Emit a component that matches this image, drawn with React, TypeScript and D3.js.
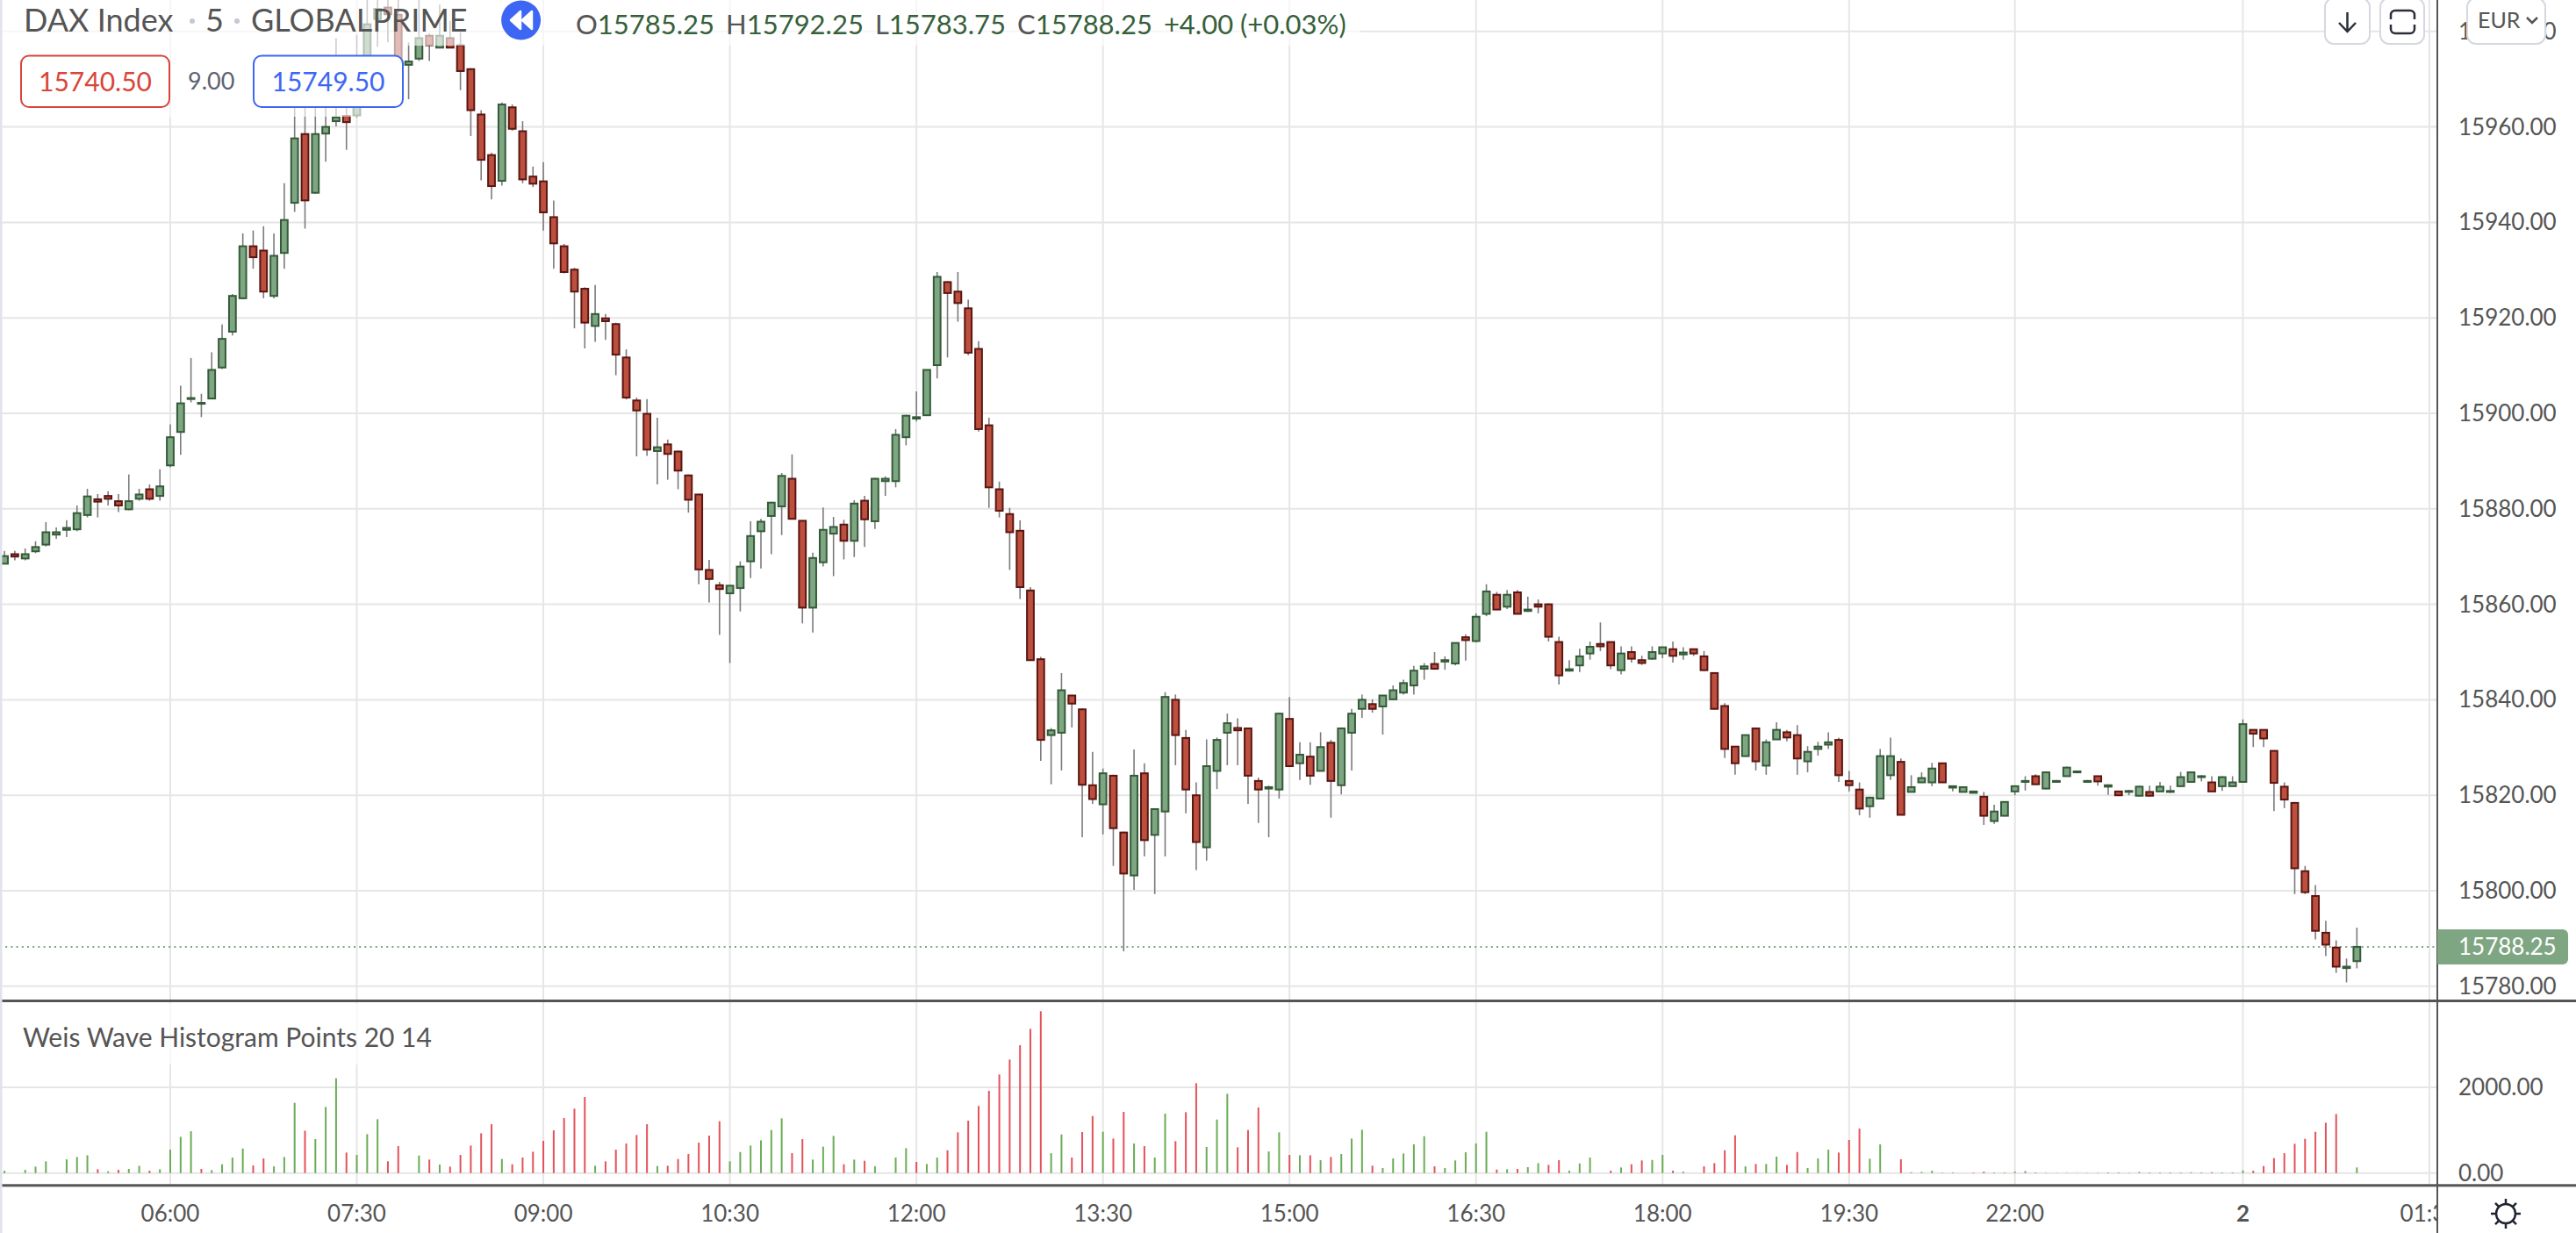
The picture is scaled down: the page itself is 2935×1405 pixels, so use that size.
import * as d3 from 'd3';
import { useEffect, useRef } from 'react';

const WIDTH = 2935;
const HEIGHT = 1405;

const opens = [
  15868.5,15870.5,15869.6,15871.1,15872.5,15874.6,15875.6,15875.7,15878.7,15882,
  15882.7,15881.6,15879.9,15882.1,15884.1,15882.7,15889.1,15896.1,15903,15902,
  15903.1,15909.6,15917.1,15924.1,15935,15934.1,15924.6,15933.6,15944.1,15958.5,
  15946.2,15958.6,15961.2,15962.3,15962.4,15970,15982.6,15985,15983.5,15973,
  15974.3,15979.1,15976.6,15978.6,15977.1,15972.1,15962.6,15954.1,15948.7,15964.1,
  15959.1,15949.6,15948.6,15941.1,15935,15930.1,15926.1,15918.3,15919.9,15918.7,
  15911.7,15902.7,15899.9,15892.1,15893.5,15892,15887,15883,15867.2,15864,
  15862.3,15863.4,15869,15875.3,15878.5,15880.5,15886.3,15877.5,15859.3,15868.8,
  15874.8,15876.7,15873.3,15881.7,15877.4,15885.8,15885.8,15895,15898.9,15899.6,
  15910.1,15927.5,15925.5,15922,15913.5,15897.5,15884.1,15878.9,15875.4,15862.9,
  15848.5,15832.6,15833.1,15840.9,15838,15822.1,15818.1,15824.1,15812.2,15803.2,
  15824.6,15811.7,15816.6,15840,15832,15820,15809.1,15825.1,15833.1,15834.1,
  15834,15823,15821.4,15821.2,15836,15826.7,15828.1,15825.1,15831,15822.1,
  15833.1,15838.1,15839.1,15838.6,15840.1,15841.5,15843,15846.5,15847.5,15848,
  15847.6,15853.1,15852.3,15858,15862,15859.5,15862.5,15858.6,15860,15860,
  15852.1,15846.1,15847.2,15849.7,15851.7,15852.1,15846.2,15850,15848.3,15848.6,
  15849.7,15850.6,15849.5,15850.6,15849.1,15845.6,15838.7,15830.2,15828.2,15834,
  15826.2,15831.7,15833.2,15832.6,15827.1,15829.7,15830.6,15831.6,15823,15821.2,
  15817.7,15819.3,15824.2,15827,15820.7,15822.7,15822.7,15826.7,15821.6,15820.7,
  15820.5,15819.7,15814.6,15815.7,15820.8,15822.8,15824,15821.4,15822.8,15824,
  15824.8,15822.8,15824,15821.8,15820.8,15820.7,15819.9,15820.7,15820.8,15820.7,
  15821.9,15822.8,15823.8,15822.7,15821.9,15821.9,15822.8,15833.7,15833.7,15829.3,
  15821.8,15818.4,15804.1,15798.9,15791.2,15788.1,15783.8,15785.25,
];

const closes = [
  15870.1,15870,15870.5,15872,15875.1,15875.1,15876,15879.1,15882.6,15881.5,
  15882.1,15880.7,15881.6,15883,15882.1,15884.7,15895,15902.1,15903.2,15902.2,
  15909.1,15915.6,15924.6,15935,15932.7,15925.5,15933,15940.5,15957.6,15944.6,
  15958.5,15960,15962,15961,15969.4,15981.5,15984.7,15983.6,15974.3,15973.7,
  15978.6,15977.1,15979.1,15976.6,15971.7,15963.5,15953.1,15947.6,15964.7,15959.6,
  15949,15948.1,15942.1,15935.6,15929.6,15925.5,15919,15920.8,15919.3,15912.3,
  15903.3,15900.6,15892.4,15892.9,15891.5,15888,15881.9,15867.3,15865.3,15863.2,
  15863.9,15867.9,15874.3,15877.3,15881.3,15886.9,15877.9,15859.3,15869.7,15875.6,
  15876.2,15873.3,15881.1,15877.8,15886.3,15886.3,15895.5,15899.5,15899.2,15909.1,
  15928.6,15925.2,15923.1,15912.7,15896.7,15884.5,15879.6,15875.1,15863.6,15848.3,
  15831.6,15833.6,15842,15839.2,15822.2,15819.2,15824.6,15813.1,15803.6,15824.1,
  15810.6,15817.1,15840.6,15832.6,15821.2,15810.2,15826.1,15831.6,15835.1,15833.6,
  15824.1,15821.2,15821.7,15837.1,15826.1,15828.5,15824.1,15830.1,15823,15834,
  15837.1,15840,15838.1,15840.9,15842,15843.5,15846.1,15847,15846.5,15848.3,
  15851.9,15852.5,15857.4,15862.7,15858.9,15862,15858,15858.9,15859.5,15853.2,
  15845.1,15846.4,15849.1,15851.1,15851.2,15847.2,15849.7,15848.6,15847.7,15850,
  15851,15849.2,15849.9,15849.7,15846.2,15838.1,15829.7,15826.7,15832.6,15827.1,
  15831.1,15833.7,15832.1,15827.7,15829.1,15830.2,15831.1,15824.2,15822.1,15817.2,
  15819.5,15828.2,15828.2,15815.9,15821.7,15823.6,15825.6,15822.7,15821.9,15821.7,
  15820.8,15815.7,15816.6,15818.6,15821.9,15823,15822.3,15824.8,15823,15825.8,
  15825,15823,15822.9,15822.1,15820,15820.9,15821.8,15819.9,15821.8,15820.9,
  15823.8,15824.8,15824,15820.8,15823.8,15822.7,15834.9,15832.9,15831.9,15822.6,
  15819.1,15804.7,15799.7,15791.6,15788.7,15784.1,15784.1,15788.25,
];

const highs = [
  15871.2,15871.2,15871.7,15873.2,15877.2,15876.1,15877.6,15880.7,15884.2,15883.1,
  15883.7,15883.1,15887.2,15884.2,15885.1,15888.3,15897.7,15905.8,15911.6,15904.1,
  15912.8,15918.6,15925,15937.7,15938.3,15939.2,15937.7,15948.2,15968,15967,
  15966.4,15965.8,15978.6,15964,15979.3,15986.6,15987,15987,15986.6,15977.7,
  15986.6,15979.6,15985.6,15982.2,15979.8,15972.3,15963.5,15954.6,15965.1,15964.7,
  15961.2,15951.7,15952.6,15944.6,15935.5,15930.5,15926.4,15926.9,15920.8,15919,
  15913.4,15903.3,15903,15899.1,15894.5,15892.2,15887.2,15883.1,15869.3,15864.7,
  15864,15869,15877.4,15877.9,15881.5,15887.5,15891.4,15877.6,15870.8,15880.3,
  15878.3,15877.7,15881.8,15882.7,15886.5,15886.8,15896.7,15899.7,15904.6,15909.2,
  15929.6,15927.7,15929.6,15923.8,15915.1,15899.1,15885.7,15880.2,15877.6,15863.6,
  15849,15834.1,15845.6,15841,15838.2,15829.1,15825.6,15824.3,15812.4,15829.6,
  15826.7,15817.3,15841.6,15841.1,15833.7,15822.7,15831.7,15832.1,15837.1,15836.1,
  15834.2,15823.7,15822,15837.3,15840.6,15831.1,15831.1,15833.2,15831.6,15834.2,
  15838.1,15841.1,15840.1,15841,15843,15844.2,15847.1,15847.7,15850,15849.1,
  15852,15853.7,15858.1,15864.2,15862.6,15863,15863,15861.6,15861,15860.2,
  15853.2,15848.3,15850.7,15852.2,15856.2,15852.2,15851.2,15851.2,15849.2,15851.2,
  15851.1,15852.2,15851,15850.7,15850.2,15845.7,15839.3,15830.3,15832.7,15834.1,
  15831.7,15835.3,15833.7,15834.7,15830.3,15831.2,15833.2,15832.1,15825.1,15822.7,
  15819.7,15829.7,15832.1,15827.7,15824.2,15824.8,15826.8,15826.8,15822,15821.8,
  15820.9,15820.7,15818,15818.7,15822,15824,15824.4,15824.9,15823.2,15826,
  15825.2,15823.2,15824.1,15822.3,15820.9,15821.1,15822,15822,15822.8,15822,
  15824.9,15824.9,15824.2,15824,15824,15824,15835.9,15833.8,15833.8,15829.4,
  15822.7,15818.6,15805.2,15801.2,15793.7,15789.6,15785.8,15792.25,
];

const lows = [
  15868.5,15869.2,15869.2,15870.7,15872.1,15873.7,15874.1,15875.3,15878.2,15878.2,
  15880.7,15879.3,15879.7,15881.7,15881.7,15881.7,15888.7,15891.3,15902.3,15899.2,
  15903.1,15909.3,15916.3,15924,15930.3,15924.1,15924.1,15930.3,15942.2,15938.7,
  15946,15952.7,15960.1,15955.2,15962,15969,15976.8,15977.7,15974,15965.8,
  15973.8,15973.8,15976.5,15976.5,15967.7,15958.1,15948.8,15944.8,15947.7,15959.2,
  15948.2,15947.4,15938.3,15930.3,15929.3,15917.8,15913.6,15915,15915.4,15908,
  15902.9,15891,15891.1,15885.1,15886.1,15884.1,15879.2,15864.2,15860.4,15853.6,
  15847.7,15858.5,15865.5,15867.5,15870.5,15874.5,15877.8,15856,15854.1,15867.9,
  15865.9,15869.4,15869.9,15872,15875.8,15882.7,15884.5,15893.3,15898.3,15899.5,
  15907.3,15911.7,15919.2,15912.2,15896.2,15880.2,15878.2,15867.2,15861.1,15848.2,
  15827.2,15822.3,15825.2,15834.2,15811.2,15818.2,15811.8,15805.2,15787.3,15800.2,
  15807.2,15799.3,15807.2,15826.3,15816.2,15804.3,15806.3,15821.3,15826.3,15826.3,
  15818.2,15814.2,15811.2,15819.3,15826,15823.2,15822.2,15825,15815.3,15820.2,
  15825.2,15836.2,15837.3,15832.7,15840,15841.1,15841.1,15844.2,15846.3,15846.3,
  15847.2,15848.2,15852,15857.5,15858.8,15859,15857.9,15858.4,15858.1,15852.2,
  15843.2,15845.9,15845.8,15848.4,15850.2,15846.4,15845.3,15847.8,15847.3,15848.4,
  15848.7,15847.8,15848.4,15849.2,15846,15838,15827.8,15824.3,15828.1,15825.2,
  15824.3,15831.6,15831.3,15824.3,15824.8,15828.3,15829.7,15822.8,15820.8,15815.8,
  15815.3,15819.2,15823.2,15815.8,15820.6,15822.6,15821.9,15822.6,15820.8,15820.6,
  15820.4,15813.8,15814,15815.6,15820,15821,15822.2,15821.3,15822.6,15823.9,
  15824.6,15822.6,15822,15820.1,15819.9,15820,15819.8,15819.8,15820.7,15820.5,
  15821.8,15822.7,15822.9,15820.7,15820.9,15821.8,15822.7,15830.1,15830.1,15816.7,
  15817.3,15799.3,15799.3,15789.8,15786.3,15782.8,15780.8,15783.75,
];

// Weis wave volume, negative = down wave (red)
const weisValues = [
  55,0,75,150,273,0,320,375,416,-89,
  41,-75,96,171,-55,89,546,846,976,-96,
  68,205,362,573,-177,-341,157,375,1638,-990,
  792,1543,2212,-478,423,908,1256,-273,-628,0,
  410,-314,198,-150,-423,-642,-928,-1140,328,-205,
  -362,-498,-751,-997,-1283,-1502,-1775,171,-273,-546,
  -689,-887,-1140,164,-171,-328,-444,-710,-874,-1208,
  273,491,642,764,1003,1276,-464,-792,314,614,
  867,-205,314,-287,157,0,362,580,-259,212,
  362,-532,-949,-1222,-1563,-1918,-2300,-2648,-2983,-3365,
  -3775,464,901,-362,-956,-1331,962,-805,-1427,689,
  -628,362,1386,-744,-1420,-2096,608,1249,1850,-601,
  -1003,-1529,505,949,-423,416,-416,300,-375,444,
  805,1010,-171,116,341,457,669,860,-157,116,
  294,485,689,962,-82,89,-96,137,232,-191,
  -300,55,225,362,0,-55,130,-205,-294,307,
  423,-55,34,0,-157,-232,-532,-881,157,-212,
  212,382,-191,-491,116,341,546,-478,-771,-1038,
  334,669,0,-321,20,27,55,-10,-14,0,
  -14,-34,14,14,34,48,-14,-7,5,-5,
  5,-5,-7,-14,-14,-7,27,-14,14,-14,
  14,20,-14,-20,14,-14,61,-55,-164,-348,
  -464,-682,-799,-962,-1174,-1378,0,130,
];

const timeTickIndex = [16, 34, 52, 70, 88, 106, 124, 142, 160, 178, 194, 216, 234];
const timeTickLabels = ['06:00', '07:30', '09:00', '10:30', '12:00', '13:30', '15:00', '16:30', '18:00', '19:30', '22:00', '2', '01:30'];
const priceTicks = [15980, 15960, 15940, 15920, 15900, 15880, 15860, 15840, 15820, 15800, 15780];
const weisTicks = [0, 2000];
const lastPrice = 15788.25;

const FONT = 'Lato, sans-serif';
const UP = '#7fa683';
const UP_DARK = '#345b38';
const DOWN = '#bc4f3e';
const DOWN_DARK = '#5a1612';
const GRID = '#e6e6e6';
const AXIS = '#555555';
const TEXT = '#555555';

const App = () => {
  const ref = useRef<SVGSVGElement>(null);

  useEffect(() => {
    if (!ref.current) return;
    const svg = d3.select(ref.current);
    svg.selectAll('*').remove();

    const x = d3.scaleLinear().domain([16, 234]).range([194, 2768]);
    const y = d3.scaleLinear().domain([15960, 15780]).range([144.6, 1123.8]);
    const yWeis = d3.scaleLinear().domain([0, 2000]).range([1336.7, 1239]);
    const paneRight = 2777;

    svg.append('rect').attr('width', WIDTH).attr('height', HEIGHT).attr('fill', '#fff');

    // Сетка
    svg.append('g').selectAll('line').data(timeTickIndex).join('line')
      .attr('x1', d => x(d)).attr('x2', d => x(d))
      .attr('y1', 0).attr('y2', 1351)
      .attr('stroke', GRID).attr('stroke-width', 2);
    svg.append('g').selectAll('line').data(priceTicks).join('line')
      .attr('x1', 0).attr('x2', paneRight)
      .attr('y1', d => y(d)).attr('y2', d => y(d))
      .attr('stroke', GRID).attr('stroke-width', 2);
    svg.append('g').selectAll('line').data(weisTicks).join('line')
      .attr('x1', 0).attr('x2', paneRight)
      .attr('y1', d => yWeis(d)).attr('y2', d => yWeis(d))
      .attr('stroke', GRID).attr('stroke-width', 2);

    // Последняя цена
    svg.append('line')
      .attr('x1', 0).attr('x2', paneRight)
      .attr('y1', y(lastPrice)).attr('y2', y(lastPrice))
      .attr('stroke', UP).attr('stroke-width', 2).attr('stroke-dasharray', '2 4.2');

    // Свечи
    const candles = svg.append('g');
    const idx = d3.range(opens.length);
    candles.selectAll('line').data(idx).join('line')
      .attr('x1', i => x(i)).attr('x2', i => x(i))
      .attr('y1', i => y(highs[i])).attr('y2', i => y(lows[i]))
      .attr('stroke', '#7b7b7b').attr('stroke-width', 1.6);
    candles.selectAll('rect').data(idx).join('rect')
      .attr('x', i => x(i) - 3.9)
      .attr('width', 7.8)
      .attr('y', i => y(Math.max(opens[i], closes[i])))
      .attr('height', i => Math.abs(y(opens[i]) - y(closes[i])))
      .attr('fill', i => (closes[i] >= opens[i] ? UP : DOWN))
      .attr('stroke', i => (closes[i] >= opens[i] ? UP_DARK : DOWN_DARK))
      .attr('stroke-width', 2);

    // Гистограмма
    svg.append('g').selectAll('rect').data(idx.filter(i => weisValues[i] !== 0)).join('rect')
      .attr('x', i => x(i) - 1)
      .attr('width', 2)
      .attr('y', i => yWeis(Math.abs(weisValues[i])))
      .attr('height', i => yWeis(0) - yWeis(Math.abs(weisValues[i])))
      .attr('fill', i => (weisValues[i] > 0 ? '#6aad56' : '#e4525a'));

    // Подложка легенды
    svg.append('rect').attr('x', 0).attr('y', 0).attr('width', 1550).attr('height', 52)
      .attr('fill', '#fff').attr('opacity', 0.62);
    svg.append('rect').attr('x', 0).attr('y', 52).attr('width', 459).attr('height', 81)
      .attr('fill', '#fff').attr('opacity', 0.62);
    svg.append('rect').attr('x', 0).attr('y', 1143).attr('width', 540).attr('height', 70)
      .attr('fill', '#fff').attr('opacity', 0.7);

    // Рамки панелей
    svg.append('rect').attr('x', 0).attr('y', 0).attr('width', 2.5).attr('height', HEIGHT).attr('fill', '#e0e3eb');
    svg.append('rect').attr('x', 2.5).attr('y', 1139).attr('width', WIDTH).attr('height', 3).attr('fill', AXIS);
    svg.append('rect').attr('x', 2.5).attr('y', 1349.3).attr('width', WIDTH).attr('height', 3).attr('fill', AXIS);

    // Ось времени, подпись 01:30 обрезана краем панели
    svg.append('clipPath').attr('id', 'time-clip')
      .append('rect').attr('x', 0).attr('y', 1352).attr('width', paneRight).attr('height', 60);
    svg.append('g').attr('clip-path', 'url(#time-clip)')
      .selectAll('text').data(timeTickIndex).join('text')
      .attr('x', d => x(d)).attr('y', 1392)
      .attr('text-anchor', 'middle')
      .attr('font-family', FONT).attr('font-size', 26)
      .attr('font-weight', (_, i) => (timeTickLabels[i] === '2' ? 700 : 400))
      .attr('fill', TEXT)
      .text((_, i) => timeTickLabels[i]);

    // Ось цены
    svg.append('rect').attr('x', paneRight - 1).attr('y', 0).attr('width', 2).attr('height', HEIGHT).attr('fill', AXIS);
    svg.append('g').selectAll('text').data(priceTicks).join('text')
      .attr('x', 2801).attr('y', d => y(d) + 9)
      .attr('font-family', FONT).attr('font-size', 26).attr('fill', TEXT)
      .text(d => d3.format('.2f')(d));
    svg.append('g').selectAll('text').data(weisTicks).join('text')
      .attr('x', 2801).attr('y', d => yWeis(d) + 9)
      .attr('font-family', FONT).attr('font-size', 26).attr('fill', TEXT)
      .text(d => d3.format('.2f')(d));

    // Метка последней цены
    const ly = y(lastPrice);
    svg.append('path')
      .attr('d', `M${paneRight},${ly - 20}H2920a6,6 0 0 1 6,6V${ly + 14}a6,6 0 0 1 -6,6H${paneRight}Z`)
      .attr('fill', UP);
    svg.append('text').attr('x', 2801).attr('y', ly + 9)
      .attr('font-family', FONT).attr('font-size', 26).attr('fill', '#fff')
      .text(d3.format('.2f')(lastPrice));

    // Заголовок
    svg.append('text').attr('x', 27).attr('y', 36)
      .attr('font-family', FONT).attr('font-size', 36).attr('fill', TEXT)
      .text('DAX Index');
    svg.append('text').attr('x', 234).attr('y', 36)
      .attr('font-family', FONT).attr('font-size', 36).attr('fill', TEXT)
      .text('5');
    svg.append('text').attr('x', 286).attr('y', 36)
      .attr('font-family', FONT).attr('font-size', 36).attr('fill', TEXT)
      .text('GLOBALPRIME');
    [219, 270].forEach(cx => {
      svg.append('circle').attr('cx', cx).attr('cy', 24).attr('r', 3).attr('fill', '#c5c8d3');
    });

    // Кнопка перемотки
    svg.append('circle').attr('cx', 593.6).attr('cy', 23).attr('r', 22.5).attr('fill', '#3d66f5');
    ['M593,13 L582,23 L593,33 Z', 'M606,13 L595,23 L606,33 Z'].forEach(d => {
      svg.append('path').attr('d', d).attr('fill', '#fff')
        .attr('stroke', '#fff').attr('stroke-width', 2.5).attr('stroke-linejoin', 'round');
    });

    // OHLC
    const ohlc = svg.append('text').attr('x', 656).attr('y', 39)
      .attr('font-family', FONT).attr('font-size', 31).attr('fill', '#35603a');
    [['O', '15785.25'], ['H', '15792.25'], ['L', '15783.75'], ['C', '15788.25']].forEach(([k, v], i) => {
      ohlc.append('tspan').attr('fill', TEXT).attr('dx', i ? 13 : 0).text(k);
      ohlc.append('tspan').text(v);
    });
    ohlc.append('tspan').attr('dx', 13).text('+4.00 (+0.03%)');

    // Bid / ask
    const box = (bx: number, w: number, color: string, label: string) => {
      svg.append('rect').attr('x', bx).attr('y', 63.5).attr('width', w).attr('height', 58.5)
        .attr('rx', 9).attr('fill', '#fff').attr('stroke', color).attr('stroke-width', 2);
      svg.append('text').attr('x', bx + w / 2).attr('y', 104)
        .attr('text-anchor', 'middle')
        .attr('font-family', FONT).attr('font-size', 30).attr('fill', color)
        .text(label);
    };
    box(24, 169, '#d9453a', '15740.50');
    box(289, 170, '#3d66f5', '15749.50');
    svg.append('text').attr('x', 214).attr('y', 102)
      .attr('font-family', FONT).attr('font-size', 27).attr('fill', '#5d6270')
      .text('9.00');

    // Подпись индикатора
    svg.append('text').attr('x', 26).attr('y', 1193)
      .attr('font-family', FONT).attr('font-size', 30).attr('fill', TEXT)
      .text('Weis Wave Histogram Points 20 14');

    // Кнопки справа сверху
    const btn = (bx: number, w: number) =>
      svg.append('rect').attr('x', bx).attr('y', -2).attr('width', w).attr('height', 52)
        .attr('rx', 10).attr('fill', '#fff').attr('stroke', '#d5d8df').attr('stroke-width', 2);
    btn(2649, 51);
    svg.append('path').attr('d', 'M2674.5,14V35 M2665,26L2674.5,36L2684,26')
      .attr('fill', 'none').attr('stroke', '#2a2e39').attr('stroke-width', 2.5);
    btn(2712, 50);
    svg.append('path').attr('d', 'M2724,22v-5a5,5 0 0 1 5,-5h17a5,5 0 0 1 5,5v5 M2724,28v5a5,5 0 0 0 5,5h17a5,5 0 0 0 5,-5v-5')
      .attr('fill', 'none').attr('stroke', '#2a2e39').attr('stroke-width', 2.5);
    btn(2811, 89);
    svg.append('text').attr('x', 2823).attr('y', 32)
      .attr('font-family', FONT).attr('font-size', 25).attr('fill', TEXT)
      .text('EUR');
    svg.append('path').attr('d', 'M2879,20L2885,26L2891,20')
      .attr('fill', 'none').attr('stroke', TEXT).attr('stroke-width', 2.5);

    // Значок настроек
    const gear = svg.append('g').attr('transform', 'translate(2855,1383)');
    gear.append('circle').attr('r', 11).attr('fill', 'none').attr('stroke', '#1f2430').attr('stroke-width', 2.5);
    d3.range(8).forEach(k => {
      const a = (k * Math.PI) / 4;
      gear.append('line')
        .attr('x1', Math.cos(a) * 11).attr('y1', Math.sin(a) * 11)
        .attr('x2', Math.cos(a) * 17).attr('y2', Math.sin(a) * 17)
        .attr('stroke', '#1f2430').attr('stroke-width', 2.5);
    });
  }, []);

  return (
    <svg
      ref={ref}
      width={WIDTH}
      height={HEIGHT}
      style={{ position: 'absolute', left: 0, top: 0, display: 'block' }}
    />
  );
};

export default App;
